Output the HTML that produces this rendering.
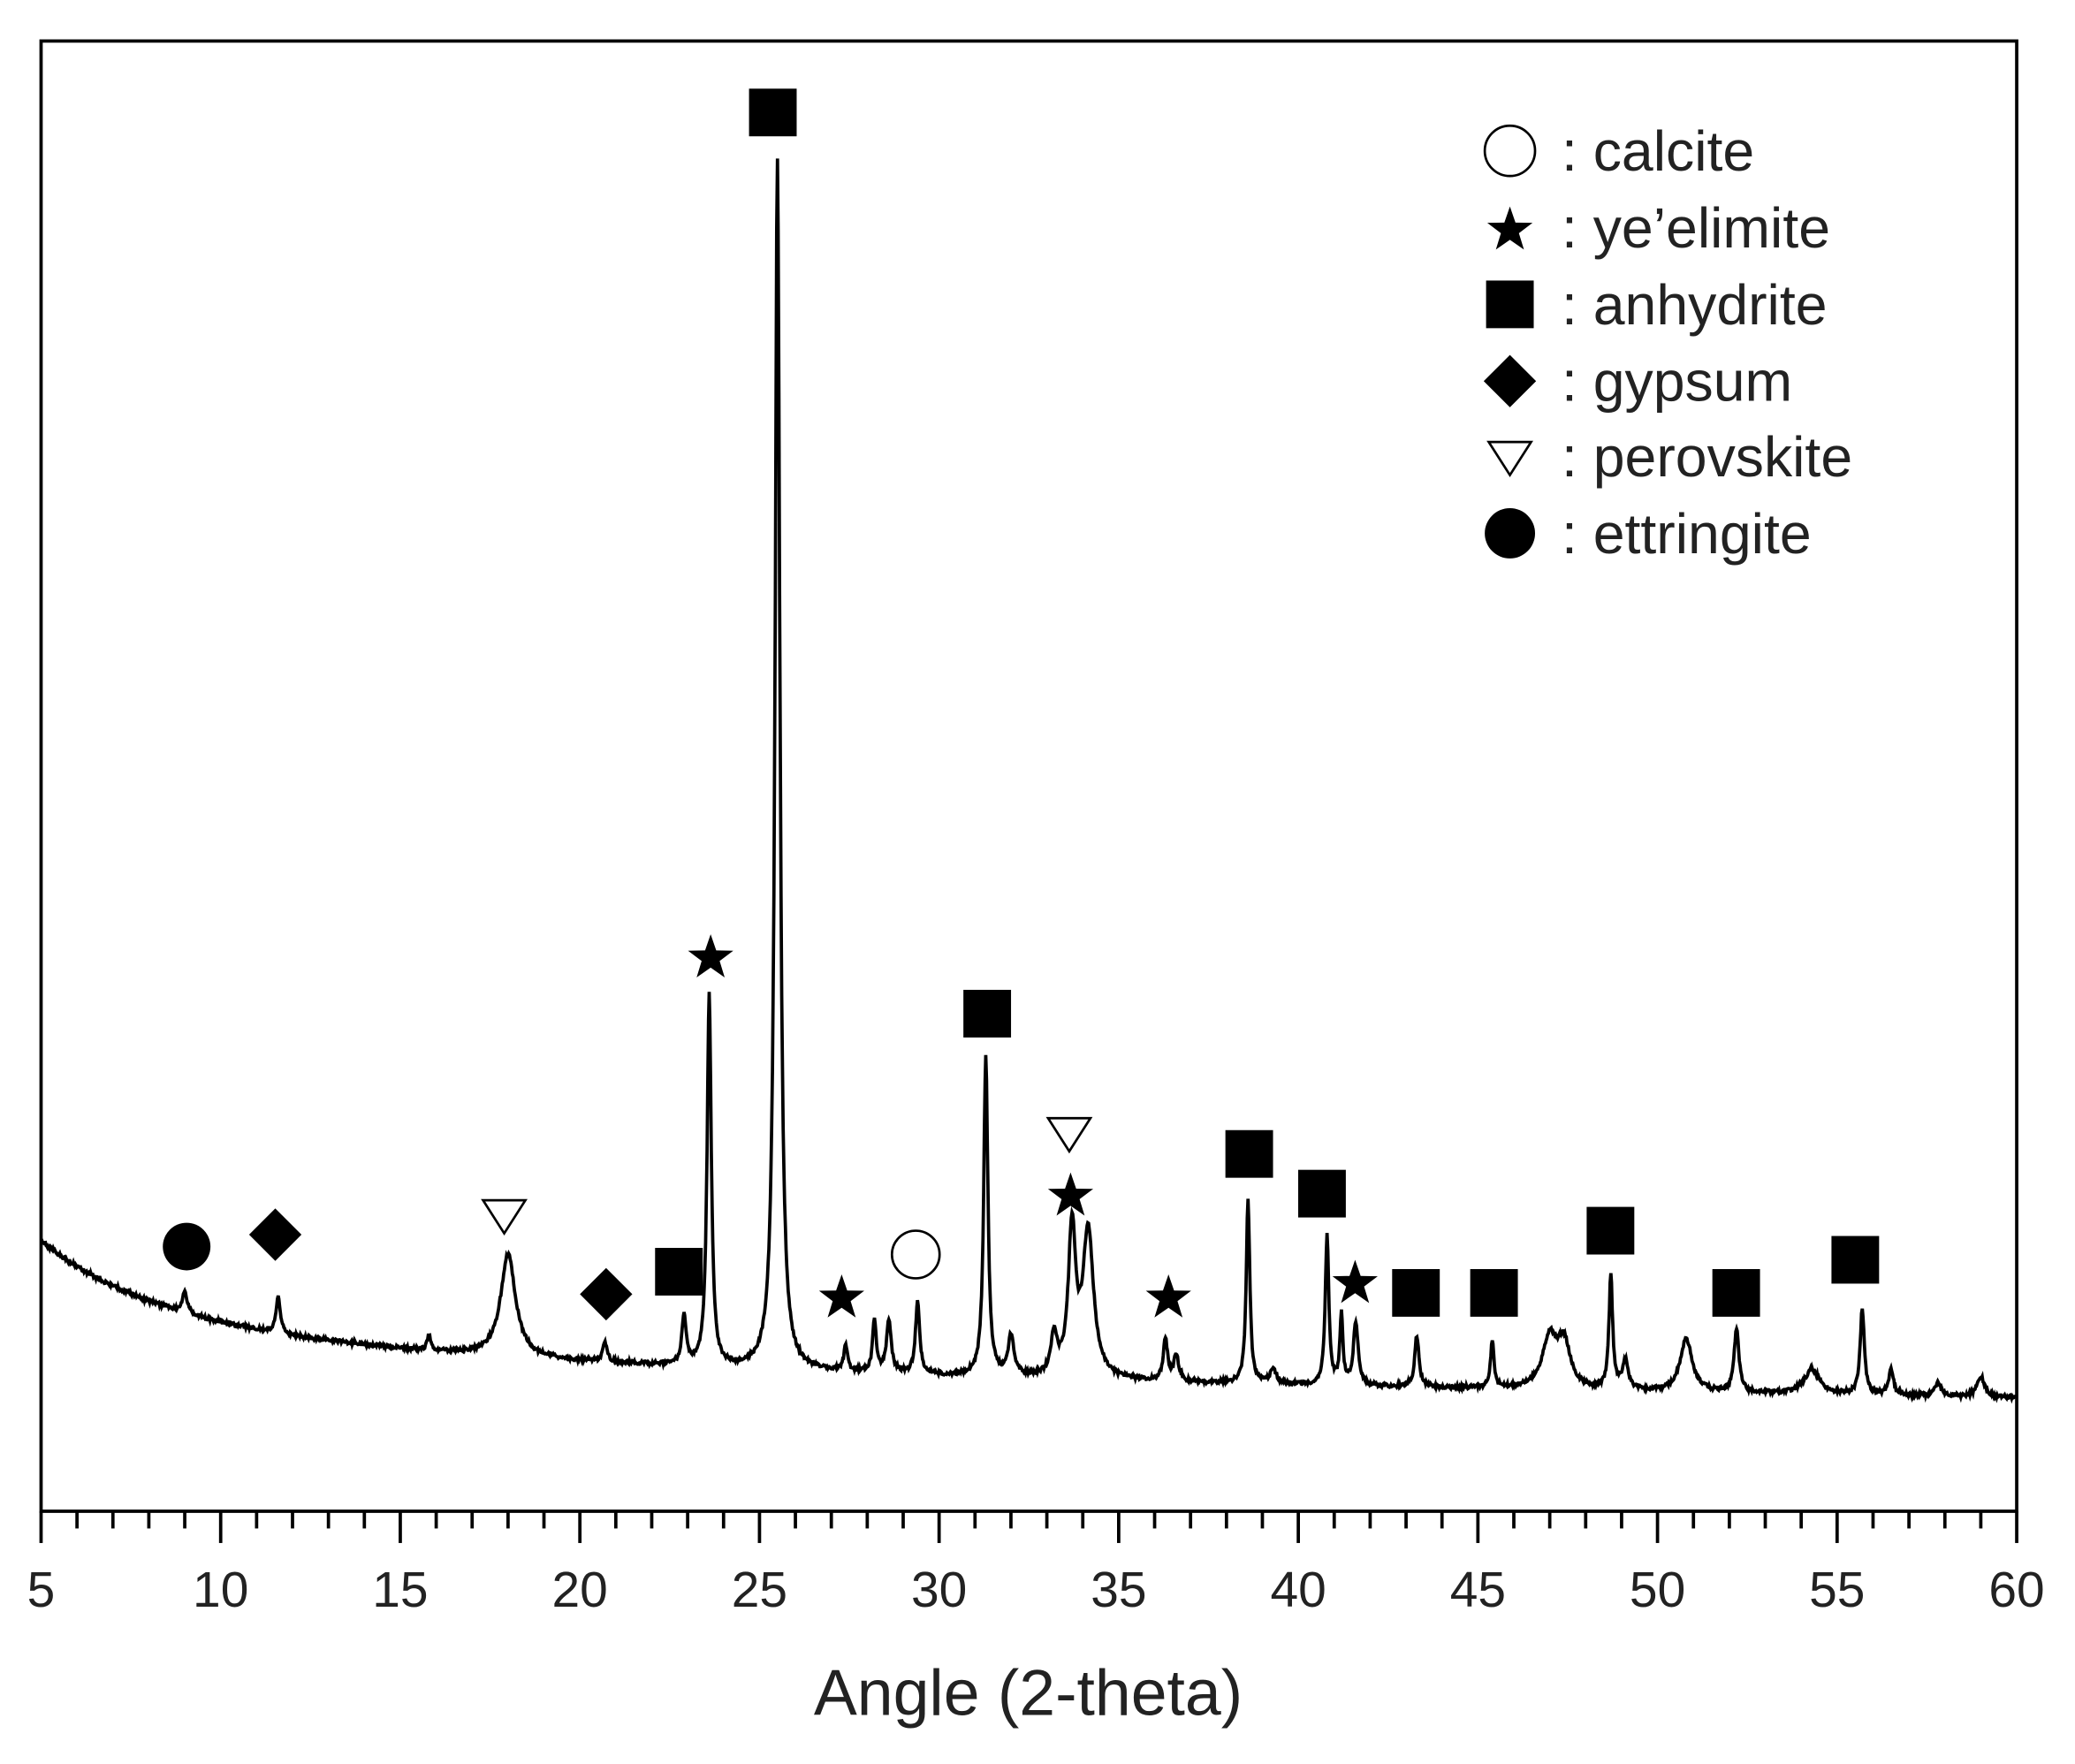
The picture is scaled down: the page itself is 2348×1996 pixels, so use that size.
<!DOCTYPE html>
<html><head><style>html,body{margin:0;padding:0;background:#fff;}svg{display:block}</style></head>
<body>
<svg id="s" width="2348" height="1996" viewBox="0 0 1568 1333" xmlns="http://www.w3.org/2000/svg" font-family="Liberation Sans, sans-serif">
<defs>
<path id="star" d="M0,-18 L4.2,-5.8 L17.1,-5.6 L6.8,2.2 L10.6,14.6 L0,7.2 L-10.6,14.6 L-6.8,2.2 L-17.1,-5.6 L-4.2,-5.8Z"/>
</defs>
<rect x="31" y="31" width="1493" height="1111" fill="none" stroke="#000" stroke-width="2.5"/>
<g id="ticks" stroke="#000" stroke-width="2.5"></g>
<g font-size="38" text-anchor="middle" fill="#222" id="tl"></g>
<text x="777" y="1296" font-size="49" text-anchor="middle" fill="#222">Angle (2-theta)</text>
<path id="trace" fill="none" stroke="#000" stroke-width="2.5"/>
<g fill="#000">
<circle cx="141" cy="942" r="18"/>
<rect x="194" y="919" width="28" height="28" transform="rotate(45 208 933)"/>
<rect x="444" y="964" width="28" height="28" transform="rotate(45 458 978)"/>
<rect x="566" y="67" width="36" height="36"/><rect x="495" y="943" width="36" height="36"/>
<rect x="728" y="748" width="36" height="36"/><rect x="926" y="854" width="36" height="36"/>
<rect x="981" y="884" width="36" height="36"/><rect x="1052" y="959" width="36" height="36"/>
<rect x="1111" y="959" width="36" height="36"/><rect x="1199" y="912" width="36" height="36"/>
<rect x="1294" y="959" width="36" height="36"/><rect x="1384" y="934" width="36" height="36"/>
<use href="#star" x="537" y="724"/><use href="#star" x="636" y="981"/><use href="#star" x="809" y="904"/>
<use href="#star" x="883" y="981"/><use href="#star" x="1024" y="970"/>
</g>
<g fill="none" stroke="#000" stroke-width="1.8">
<circle cx="692" cy="948" r="18"/>
<path d="M365,907 L397,907 L381,932Z"/><path d="M792,845 L824,845 L808,870Z"/>
</g>
<g>
<circle cx="1141" cy="114" r="19" fill="none" stroke="#000" stroke-width="1.8"/>
<use href="#star" x="1141" y="174"/>
<rect x="1123" y="212" width="36" height="36"/>
<rect x="1127" y="274" width="28" height="28" transform="rotate(45 1141 288)"/>
<path d="M1125,334 L1157,334 L1141,359Z" fill="none" stroke="#000" stroke-width="1.8"/>
<circle cx="1141" cy="403" r="19"/>
</g>
<g font-size="43" fill="#222">
<text x="1180" y="129">: calcite</text>
<text x="1180" y="187">: ye’elimite</text>
<text x="1180" y="245">: anhydrite</text>
<text x="1180" y="303">: gypsum</text>
<text x="1180" y="360">: perovskite</text>
<text x="1180" y="418">: ettringite</text>
</g>
</svg>
<script>
var X=function(a){return 31+(a-5)*1493/55;};
var t='',l='';
for(var a=5;a<=60;a++){var maj=(a%5==0);t+='<line x1="'+X(a)+'" y1="1142" x2="'+X(a)+'" y2="'+(maj?1166:1155)+'"/>';
if(maj)l+='<text x="'+X(a)+'" y="1214">'+a+'</text>';}
document.getElementById('ticks').innerHTML=t;document.getElementById('tl').innerHTML=l;
function base(a){return 1050 - 60*Math.exp(-(a-5)/3.2) - 40*Math.exp(-(a-5)/14) +(a-40)*0.35;}
var P=[[9,975,.08],[11.6,980,.07],[15.8,1010,.06],[18,948,.25],[20.7,1015,.07],[22.9,995,.07],[23.6,752,.07],[25.5,120,.08],
[27.4,1018,.06],[28.2,998,.06],[28.6,1000,.08],[29.4,985,.07],[31.3,800,.07],[32,1012,.1],[33.2,1012,.1],[33.7,932,.12],[34.15,932,.18],
[36.3,1012,.07],[36.6,1025,.08],[38.6,908,.06],[39.3,1035,.1],[40.8,935,.06],[41.2,995,.05],[41.6,1000,.08],[43.3,1010,.07],[45.4,1015,.06],
[47,1012,.25],[47.4,1018,.2],[48.7,965,.06],[49.1,1030,.1],[50.8,1012,.2],[52.2,1005,.08],[54.3,1035,.25],[55.7,990,.07],[56.5,1035,.08],[57.8,1045,.1],[59,1040,.12]];
var d='';var seed=1;function rnd(){seed=(seed*16807)%2147483647;return seed/2147483647-0.5;}
for(var a=5;a<=60;a+=0.02){var b=base(a);var y=b+rnd()*3;
for(var i=0;i<P.length;i++){var p=P[i];var h=base(p[0])-p[1];var g=(a-p[0])/p[2];y-=h/(1+g*g);}
d+=(d?'L':'M')+X(a).toFixed(1)+','+y.toFixed(1);}
document.getElementById('trace').setAttribute('d',d);
</script>
</body></html>
